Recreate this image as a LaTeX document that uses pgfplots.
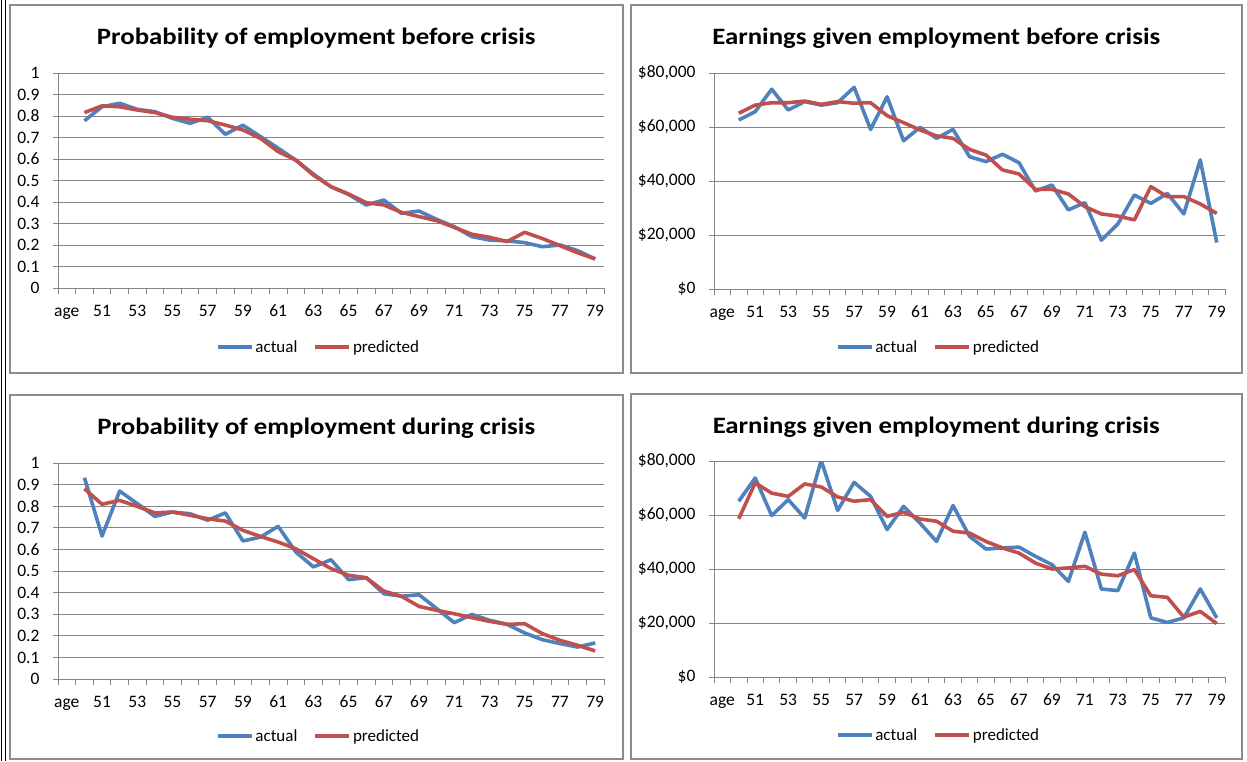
\documentclass[border=0pt]{standalone}
\usepackage{fontspec}
\setmainfont{Carlito}
\newfontfamily\titlefont[FakeStretch=1.14]{Carlito}
\usepackage{pgfplots}
\pgfplotsset{compat=1.18}
\definecolor{xlblue}{HTML}{4F81BD}
\definecolor{xlred}{HTML}{C0504D}
\definecolor{xlgrid}{HTML}{868686}
\definecolor{xlframe}{HTML}{8C8C8C}

\pgfplotsset{
  xlbase/.style={
    scale only axis,
    axis x line*=bottom, axis y line*=left,
    axis line style={xlgrid, line width=0.9pt},
    xmin=48.5, xmax=79.5,
    xtick={49,51,...,79},
    xticklabels={age,51,53,55,57,59,61,63,65,67,69,71,73,75,77,79},
    minor xtick={48.5,49.5,...,79.5},
    tick align=outside,
    major tick length=5pt,
    minor tick length=6pt,
    major x tick style={draw=none},
    every tick/.style={xlgrid, line width=0.9pt},
    minor x tick style={xlgrid, line width=0.9pt},
    ymajorgrids,
    grid style={xlgrid, line width=0.9pt},
    scaled y ticks=false,
    ticklabel style={font=\fontsize{17.5}{17.5}\selectfont, text=black},
    xticklabel style={text height=11pt, text depth=0pt, anchor=north, yshift=-9pt},
    yticklabel style={xshift=-10pt},
    legend columns=2,
    legend style={draw=none, fill=none, font=\fontsize{17}{17}\selectfont,
      /tikz/every even column/.append style={column sep=14pt}},
    legend image code/.code={\draw[##1] (0pt,0pt) -- (34pt,0pt);},
    title style={font=\titlefont\fontsize{23.5}{23.5}\selectfont\bfseries, anchor=base, yshift=0pt},
  },
  probax/.style={ymin=0, ymax=1,
    ytick={0,0.1,0.2,0.3,0.4,0.5,0.6,0.7,0.8,0.9,1},
    yticklabels={0,0.1,0.2,0.3,0.4,0.5,0.6,0.7,0.8,0.9,1}},
  earnax/.style={ymin=0, ymax=80000,
    ytick={0,20000,40000,60000,80000},
    yticklabels={\$0,{\$20,000},{\$40,000},{\$60,000},{\$80,000}}},
  act/.style={xlblue, line width=3.6pt, line join=round},
  pre/.style={xlred, line width=3.6pt, line join=round},
}

\pgfplotstableread{
age a p
50 0.778 0.816
51 0.843 0.847
52 0.859 0.843
53 0.831 0.828
54 0.820 0.816
55 0.789 0.794
56 0.766 0.785
57 0.794 0.778
58 0.715 0.758
59 0.757 0.735
60 0.704 0.696
61 0.650 0.634
62 0.595 0.595
63 0.530 0.525
64 0.471 0.471
65 0.435 0.437
66 0.386 0.397
67 0.409 0.386
68 0.347 0.352
69 0.358 0.332
70 0.319 0.313
71 0.285 0.282
72 0.239 0.250
73 0.223 0.236
74 0.219 0.216
75 0.211 0.259
76 0.192 0.230
77 0.200 0.197
78 0.174 0.164
79 0.135 0.135
}\probbefore

\pgfplotstableread{
age a p
50 62600 65100
51 65700 68100
52 74000 69000
53 66300 69000
54 69400 69600
55 68100 68400
56 69000 69400
57 74700 68800
58 59100 69000
59 71200 64200
60 54900 61600
61 59900 58900
62 55800 56700
63 59100 55800
64 49000 51700
65 47200 49600
66 49900 44100
67 46800 42600
68 36300 36900
69 38500 36900
70 29300 35200
71 32000 30500
72 18100 27800
73 24100 27000
74 34800 25600
75 31700 37900
76 35400 34200
77 27800 34200
78 47800 31500
79 17200 28000
}\earnbefore

\pgfplotstableread{
age a p
50 0.932 0.881
51 0.662 0.809
52 0.870 0.827
53 0.812 0.799
54 0.753 0.769
55 0.773 0.773
56 0.765 0.758
57 0.735 0.742
58 0.769 0.731
59 0.639 0.688
60 0.657 0.660
61 0.707 0.634
62 0.588 0.603
63 0.519 0.557
64 0.552 0.511
65 0.460 0.480
66 0.469 0.469
67 0.395 0.407
68 0.383 0.383
69 0.390 0.336
70 0.326 0.318
71 0.261 0.302
72 0.299 0.284
73 0.272 0.267
74 0.253 0.253
75 0.213 0.256
76 0.182 0.210
77 0.164 0.179
78 0.148 0.156
79 0.167 0.130
}\probduring

\pgfplotstableread{
age a p
50 65100 58600
51 73700 71900
52 59800 68100
53 65700 66900
54 58900 71500
55 80200 70400
56 61700 66700
57 72100 65100
58 66900 65700
59 54600 59500
60 63200 61000
61 57000 58500
62 50200 57700
63 63500 54000
64 52100 53300
65 47400 50200
66 47800 47800
67 48100 45900
68 44700 42200
69 41600 40000
70 35400 40400
71 53600 41000
72 32600 38100
73 32000 37500
74 45900 39800
75 21900 30100
76 20200 29500
77 21900 22200
78 32600 24300
79 21900 19800
}\earnduring

\begin{document}
\begin{tikzpicture}[x=1pt,y=1pt]
\useasboundingbox (0,0) rectangle (1247,761);
% outer left lines
\draw[black, line width=1.3pt] (1.2,0) -- (1.2,761);
\draw[black, line width=1.3pt] (5.8,0) -- (5.8,761);
% panel frames
\draw[xlframe, line width=1.5pt] (10,756) rectangle (623,388);
\draw[xlframe, line width=1.5pt] (631,756) rectangle (1242,388);
\draw[xlframe, line width=1.5pt] (10,366) rectangle (623,2);
\draw[xlframe, line width=1.5pt] (631,367) rectangle (1242,2);

\begin{axis}[xlbase, probax, at={(58pt,473pt)}, anchor=south west,
  width=546pt, height=215pt,
  title={Probability of employment before crisis},
  title style={at={(0.473,1.105)}},
  legend style={at={(0.477,-0.274)}, anchor=center}]
\addplot[act] table[x=age,y=a] {\probbefore};
\addplot[pre] table[x=age,y=p] {\probbefore};
\legend{actual,predicted}
\end{axis}

\begin{axis}[xlbase, earnax, at={(714pt,472pt)}, anchor=south west,
  width=511pt, height=216pt,
  title={Earnings given employment before crisis},
  title style={at={(0.435,1.104)}},
  legend style={at={(0.439,-0.268)}, anchor=center}]
\addplot[act] table[x=age,y=a] {\earnbefore};
\addplot[pre] table[x=age,y=p] {\earnbefore};
\legend{actual,predicted}
\end{axis}

\begin{axis}[xlbase, probax, at={(58pt,82pt)}, anchor=south west,
  width=546pt, height=216pt,
  title={Probability of employment during crisis},
  title style={at={(0.473,1.104)}},
  legend style={at={(0.477,-0.264)}, anchor=center}]
\addplot[act] table[x=age,y=a] {\probduring};
\addplot[pre] table[x=age,y=p] {\probduring};
\legend{actual,predicted}
\end{axis}

\begin{axis}[xlbase, earnax, at={(714pt,84pt)}, anchor=south west,
  width=511pt, height=216pt,
  title={Earnings given employment during crisis},
  title style={at={(0.435,1.099)}},
  legend style={at={(0.439,-0.268)}, anchor=center}]
\addplot[act] table[x=age,y=a] {\earnduring};
\addplot[pre] table[x=age,y=p] {\earnduring};
\legend{actual,predicted}
\end{axis}
\end{tikzpicture}
\end{document}
